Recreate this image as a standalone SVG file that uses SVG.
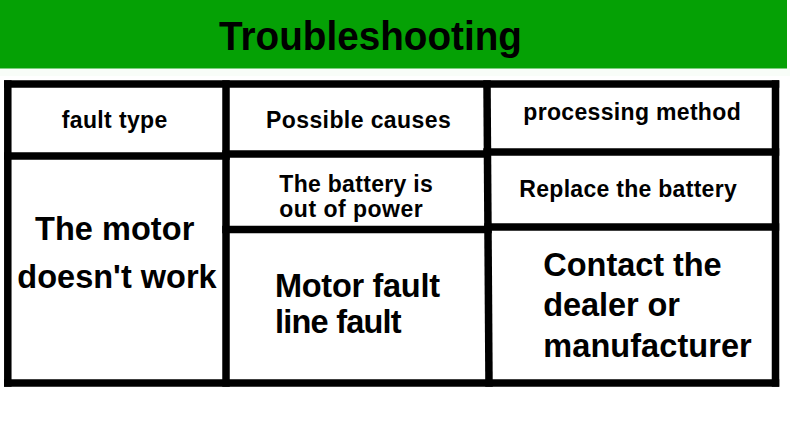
<svg xmlns="http://www.w3.org/2000/svg" width="790" height="424" viewBox="0 0 790 424">
  <style>
    .ln { stroke: #000; stroke-width: 7.5; stroke-linecap: square; fill: none; }
    .t { font-family: "Liberation Sans", Arial, sans-serif; font-weight: bold; fill: #000; }
    .s { font-size: 23px; }
    .b { font-size: 32.5px; }
  </style>
  <rect x="0" y="0" width="790" height="424" fill="#ffffff"/>
  <g id="banner">
    <rect x="0" y="68" width="790" height="8" fill="#f8fdf8"/>
    <rect x="0" y="0" width="787" height="68.5" fill="#05a105"/>
    <text class="t" x="219" y="50" font-size="40" textLength="303" lengthAdjust="spacingAndGlyphs">Troubleshooting</text>
  </g>
  <g id="grid">
    <line class="ln" x1="7.8" y1="84" x2="775.5" y2="84"/>
    <line class="ln" x1="7.8" y1="383" x2="775.5" y2="383"/>
    <line class="ln" x1="7.8" y1="84" x2="7.8" y2="383"/>
    <line class="ln" x1="775.5" y1="84" x2="775.5" y2="383"/>
    <line class="ln" x1="226" y1="84" x2="226" y2="383"/>
    <line class="ln" x1="487" y1="84" x2="489" y2="383"/>
    <line class="ln" x1="7.8" y1="156" x2="226" y2="156"/>
    <line class="ln" x1="226" y1="154" x2="487" y2="154"/>
    <line class="ln" x1="487" y1="152" x2="775.5" y2="152"/>
    <line class="ln" x1="226" y1="229.5" x2="488" y2="229.5"/>
    <line class="ln" x1="488" y1="227" x2="775.5" y2="227"/>
  </g>
  <g id="h-fault-type">
    <text class="t s" x="61.7" y="128" textLength="105.6">fault type</text>
  </g>
  <g id="h-possible-causes">
    <text class="t s" x="266" y="128" textLength="184.7">Possible causes</text>
  </g>
  <g id="h-processing-method">
    <text class="t s" x="523.3" y="120" textLength="217.4">processing method</text>
  </g>
  <g id="fault-motor">
    <text class="t b" x="35" y="239.5" textLength="159.3">The motor</text>
    <text class="t b" x="17.3" y="288" textLength="199.4">doesn't work</text>
  </g>
  <g id="cause-battery">
    <text class="t s" x="279.3" y="192.3" textLength="153.4">The battery is</text>
    <text class="t s" x="279.3" y="216.7" textLength="143.4">out of power</text>
  </g>
  <g id="method-battery">
    <text class="t s" x="519.3" y="197.3" textLength="217.4">Replace the battery</text>
  </g>
  <g id="cause-motor">
    <text class="t b" x="275" y="297.3" textLength="165">Motor fault</text>
    <text class="t b" x="275" y="332.7" textLength="126.7">line fault</text>
  </g>
  <g id="method-contact">
    <text class="t b" x="543.3" y="276" textLength="178.4">Contact the</text>
    <text class="t b" x="543.3" y="316" textLength="136.7">dealer or</text>
    <text class="t b" x="543.3" y="356.7" textLength="208.4">manufacturer</text>
  </g>
</svg>
